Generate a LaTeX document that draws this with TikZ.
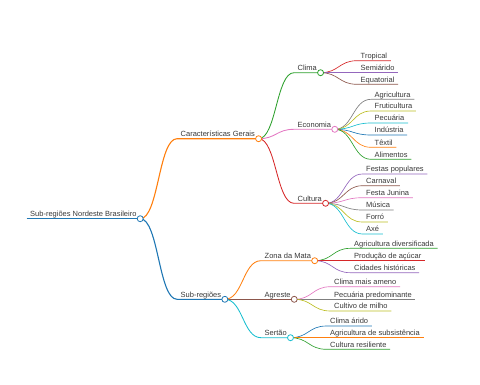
\documentclass[tikz,border=0pt]{standalone}
\usepackage{fontspec}
\setmainfont{Liberation Sans}
\usetikzlibrary{calc}

\definecolor{mmblue}{HTML}{1F77B4}
\definecolor{mmorange}{HTML}{FF7F0E}
\definecolor{mmgreen}{HTML}{2CA02C}
\definecolor{mmred}{HTML}{D62728}
\definecolor{mmpurple}{HTML}{9467BD}
\definecolor{mmbrown}{HTML}{8C564B}
\definecolor{mmpink}{HTML}{E377C2}
\definecolor{mmgray}{HTML}{7F7F7F}
\definecolor{mmolive}{HTML}{BCBD22}
\definecolor{mmcyan}{HTML}{17BECF}

% link from parent's dot to child's underline, then the underline
\newcommand{\branch}[3]{%
  \draw[#1] let \p1=(#2.south east), \p2=(#3.south west) in
    (\p1) .. controls ({(\x1+\x2)/2},\y1) and ({(\x1+\x2)/2},\y2) .. (\p2) -- (#3.south east);}

\begin{document}
\begin{tikzpicture}[x=1pt, y=-1pt,
        lbl/.style={font=\fontsize{7.5}{9}\selectfont, text=black!78, anchor=south west,
            inner xsep=3.5pt, inner ysep=2pt, text depth=0pt},
        lvone/.style={line width=1.1pt},
        lvtwo/.style={line width=0.85pt},
        leaf/.style={line width=0.65pt},
        dot/.style={draw=#1, fill=white, line width=0.8pt},
    ]
    \useasboundingbox (0,0) rectangle (480,384);

    % root and first level
    \node[lbl] (root) at (26.5,218.7) {Sub-regiões Nordeste Brasileiro};
    \node[lbl] (gerais) at (177,138.7) {Características Gerais};
    \node[lbl] (subreg) at (177,299.3) {Sub-regiões};

    % Características Gerais
    \node[lbl] (clima) at (294,72.7) {Clima};
    \node[lbl] (trop) at (357,60.7) {Tropical};
    \node[lbl] (semi) at (357,72.7) {Semiárido};
    \node[lbl] (equa) at (357,84.3) {Equatorial};
    \node[lbl] (econ) at (294,129.3) {Economia};
    \node[lbl] (agri) at (371,99.3) {Agricultura};
    \node[lbl] (frut) at (371,111) {Fruticultura};
    \node[lbl] (pecu) at (371,123) {Pecuária};
    \node[lbl] (indu) at (371,135) {Indústria};
    \node[lbl] (text) at (371,147.3) {Têxtil};
    \node[lbl] (alim) at (371,159.3) {Alimentos};
    \node[lbl] (cult) at (294,203.3) {Cultura};
    \node[lbl] (fest) at (362.5,174) {Festas populares};
    \node[lbl] (carn) at (362.5,185.7) {Carnaval};
    \node[lbl] (juni) at (362.5,197.7) {Festa Junina};
    \node[lbl] (musi) at (362.5,210) {Música};
    \node[lbl] (forr) at (362.5,222) {Forró};
    \node[lbl] (axe) at (362.5,234) {Axé};

    % Sub-regiões
    \node[lbl] (mata) at (261,260.7) {Zona da Mata};
    \node[lbl] (agdiv) at (350.5,248.3) {Agricultura diversificada};
    \node[lbl] (acuc) at (350.5,260.7) {Produção de açúcar};
    \node[lbl] (hist) at (350.5,272.7) {Cidades históricas};
    \node[lbl] (agre) at (261,299.3) {Agreste};
    \node[lbl] (ameno) at (330.5,286.7) {Clima mais ameno};
    \node[lbl] (pecpr) at (330.5,299.3) {Pecuária predominante};
    \node[lbl] (milho) at (330.5,311) {Cultivo de milho};
    \node[lbl] (sert) at (261,337.7) {Sertão};
    \node[lbl] (arido) at (326.5,326) {Clima árido};
    \node[lbl] (subs) at (326.5,337.7) {Agricultura de subsistência};
    \node[lbl] (resil) at (326.5,349.3) {Cultura resiliente};

    % branches
    \draw[lvone, mmblue] (root.south west) -- (root.south east);
    \branch{lvone, mmorange}{root}{gerais}
    \branch{lvone, mmblue}{root}{subreg}

    \branch{lvtwo, mmgreen}{gerais}{clima}
    \branch{leaf, mmred}{clima}{trop}
    \branch{leaf, mmpurple}{clima}{semi}
    \branch{leaf, mmbrown}{clima}{equa}
    \branch{lvtwo, mmpink}{gerais}{econ}
    \branch{leaf, mmgray}{econ}{agri}
    \branch{leaf, mmolive}{econ}{frut}
    \branch{leaf, mmcyan}{econ}{pecu}
    \branch{leaf, mmblue}{econ}{indu}
    \branch{leaf, mmorange}{econ}{text}
    \branch{leaf, mmgreen}{econ}{alim}
    \branch{lvtwo, mmred}{gerais}{cult}
    \branch{leaf, mmpurple}{cult}{fest}
    \branch{leaf, mmbrown}{cult}{carn}
    \branch{leaf, mmpink}{cult}{juni}
    \branch{leaf, mmgray}{cult}{musi}
    \branch{leaf, mmolive}{cult}{forr}
    \branch{leaf, mmcyan}{cult}{axe}

    \branch{lvtwo, mmorange}{subreg}{mata}
    \branch{leaf, mmgreen}{mata}{agdiv}
    \branch{leaf, mmred}{mata}{acuc}
    \branch{leaf, mmpurple}{mata}{hist}
    \branch{lvtwo, mmbrown}{subreg}{agre}
    \branch{leaf, mmpink}{agre}{ameno}
    \branch{leaf, mmgray}{agre}{pecpr}
    \branch{leaf, mmolive}{agre}{milho}
    \branch{lvtwo, mmcyan}{subreg}{sert}
    \branch{leaf, mmblue}{sert}{arido}
    \branch{leaf, mmorange}{sert}{subs}
    \branch{leaf, mmgreen}{sert}{resil}

    % dots at the end of inner nodes
    \draw[dot=mmblue] (root.south east) circle[radius=3pt];
    \draw[dot=mmorange] (gerais.south east) circle[radius=3pt];
    \draw[dot=mmblue] (subreg.south east) circle[radius=3pt];
    \draw[dot=mmgreen] (clima.south east) circle[radius=3pt];
    \draw[dot=mmpink] (econ.south east) circle[radius=3pt];
    \draw[dot=mmred] (cult.south east) circle[radius=3pt];
    \draw[dot=mmorange] (mata.south east) circle[radius=3pt];
    \draw[dot=mmbrown] (agre.south east) circle[radius=3pt];
    \draw[dot=mmcyan] (sert.south east) circle[radius=3pt];
\end{tikzpicture}
\end{document}
